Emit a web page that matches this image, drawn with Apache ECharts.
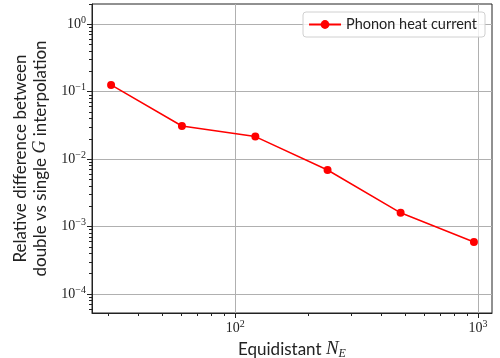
<!DOCTYPE html>
<html>
<head>
<meta charset="utf-8">
<script src="https://cdn.jsdelivr.net/npm/echarts@6/dist/echarts.min.js"></script>
<style>html,body{margin:0;padding:0;background:#fff}#c{width:500px;height:358px}</style>
</head>
<body>
<div id="c"></div>
<script>
const nE = [30.8, 60.3, 121, 240, 480, 962];
const relDiff = [0.126, 0.031, 0.0216, 0.0069, 0.0016, 0.00059];
const seriesName = 'Phonon heat current';
const xMajorTicks = [100, 1000];
const xMinorTicks = [30, 40, 50, 60, 70, 80, 90, 200, 300, 400, 500, 600, 700, 800, 900];
const yMajorTicks = [1e-4, 1e-3, 1e-2, 1e-1, 1];
const yMinorTicks = [6e-5, 7e-5, 8e-5, 9e-5, 2e-4, 3e-4, 4e-4, 5e-4, 6e-4, 7e-4, 8e-4, 9e-4,
  2e-3, 3e-3, 4e-3, 5e-3, 6e-3, 7e-3, 8e-3, 9e-3, 2e-2, 3e-2, 4e-2, 5e-2, 6e-2, 7e-2, 8e-2, 9e-2,
  0.2, 0.3, 0.4, 0.5, 0.6, 0.7, 0.8, 0.9, 2];
const xRange = [25.7, 1142];
const yRange = [5.22e-5, 2.0];

function powLabel(v) {
  const e = Math.round(Math.log10(v));
  return '{b|10}{s|' + (e < 0 ? '\u2212' + (-e) : e) + '}';
}
const tickRich = {
  b: { fontFamily: 'Liberation Serif', fontSize: 14, color: '#222' },
  s: { fontFamily: 'Liberation Serif', fontSize: 10, color: '#222', padding: [0, 0, 8, 0] }
};
const chart = echarts.init(document.getElementById('c'));
chart.setOption({
  animation: false,
  grid: { left: 92, right: 8, top: 4, bottom: 45, show: true, borderColor: '#222', borderWidth: 1,
    backgroundColor: 'transparent', containLabel: false, outerBoundsMode: 'none' },
  legend: {
    data: [seriesName], top: 12, right: 15,
    backgroundColor: 'rgba(255,255,255,0.8)', borderColor: '#d0d0d0', borderWidth: 1, borderRadius: 3,
    padding: [5, 8, 5, 5], itemWidth: 32, itemHeight: 11, itemGap: 6,
    textStyle: { fontFamily: 'Lato', fontSize: 14.5, color: '#222' }
  },
  xAxis: [{
    type: 'log', min: xRange[0], max: xRange[1],
    name: 'Equidistant {i|N}{sub|E}', nameLocation: 'middle', nameGap: 17,
    nameTextStyle: { fontFamily: 'Lato', fontSize: 17, color: '#222', verticalAlign: 'top',
      rich: { i: { fontFamily: 'Liberation Serif', fontStyle: 'italic', fontSize: 19, color: '#222' },
              sub: { fontFamily: 'Liberation Serif', fontStyle: 'italic', fontSize: 12, color: '#222', padding: [8, 0, 0, 0] } } },
    axisLine: { show: true, lineStyle: { color: '#222', width: 1 } },
    axisTick: { show: true, length: 5, customValues: xMajorTicks, lineStyle: { color: '#222' } },
    axisLabel: { customValues: xMajorTicks, formatter: powLabel, rich: tickRich, margin: 6 },
    splitLine: { show: true, lineStyle: { color: '#b0b0b0', width: 1 } },
    minorTick: { show: false }
  }, {
    type: 'log', min: xRange[0], max: xRange[1], position: 'bottom', gridIndex: 0,
    axisLine: { show: false },
    axisTick: { show: true, length: 3, customValues: xMinorTicks, lineStyle: { color: '#222' } },
    axisLabel: { show: false },
    splitLine: { show: false }
  }],
  yAxis: [{
    type: 'log', min: yRange[0], max: yRange[1],
    name: 'Relative difference between\ndouble vs single {i|G} interpolation',
    nameLocation: 'middle', nameRotate: 90, nameGap: 40,
    nameTextStyle: { fontFamily: 'Lato', fontSize: 17, color: '#222', lineHeight: 20,
      rich: { i: { fontFamily: 'Liberation Serif', fontStyle: 'italic', fontSize: 18, color: '#222', lineHeight: 20 } } },
    axisLine: { show: true, lineStyle: { color: '#222', width: 1 } },
    axisTick: { show: true, length: 5, customValues: yMajorTicks, lineStyle: { color: '#222' } },
    axisLabel: { customValues: yMajorTicks, formatter: powLabel, rich: tickRich, margin: 6 },
    splitLine: { show: true, lineStyle: { color: '#b0b0b0', width: 1 } }
  }, {
    type: 'log', min: yRange[0], max: yRange[1], position: 'left',
    axisLine: { show: false },
    axisTick: { show: true, length: 3, customValues: yMinorTicks, lineStyle: { color: '#222' } },
    axisLabel: { show: false },
    splitLine: { show: false }
  }],
  series: [{
    name: seriesName, type: 'line', xAxisIndex: 0, yAxisIndex: 0,
    data: nE.map((x, i) => [x, relDiff[i]]),
    symbol: 'circle', symbolSize: 8,
    itemStyle: { color: '#ff0000' },
    lineStyle: { color: '#ff0000', width: 1.5 }
  }]
});
</script>
</body>
</html>
